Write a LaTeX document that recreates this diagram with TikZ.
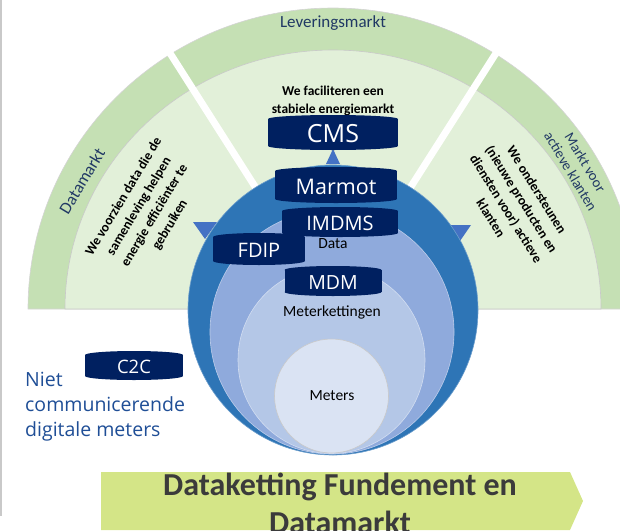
\documentclass[tikz,border=0pt]{standalone}
\usepackage{fontspec}
\usetikzlibrary{calc}
\setmainfont{Carlito}
\newfontfamily\osans{Open Sans}
\definecolor{band}{HTML}{C5E0B4}
\definecolor{innerg}{HTML}{E2F0D9}
\definecolor{edge}{HTML}{C9C9C9}
\definecolor{navy}{HTML}{002060}
\definecolor{ringA}{HTML}{2E75B6}
\definecolor{ringB}{HTML}{8FAADC}
\definecolor{ringC}{HTML}{B4C7E7}
\definecolor{ringD}{HTML}{DAE3F3}
\definecolor{tri}{HTML}{4472C4}
\definecolor{lbl}{HTML}{203864}
\definecolor{nietc}{HTML}{1F4E96}
\definecolor{banner}{HTML}{D4E587}
\definecolor{bantext}{HTML}{3B3B3B}
\tikzset{
  canlabel/.style={text=white, inner sep=0pt},
  sectortext/.style={font=\bfseries\fontsize{13.5}{18}\selectfont, align=center, inner sep=0pt},
  marketlabel/.style={text=lbl, align=center, inner sep=0pt},
  ringtext/.style={font=\fontsize{15.5}{18}\selectfont, inner sep=0pt},
  trianglefill/.style={fill=tri}
}
\newcommand\navycan[7]{%
  \fill[navy] (#2,#3) ++(-#4,{-#5+4}) rectangle ++({2*#4},{2*#5-8});
  \fill[navy] (#2,{#3-#5+4}) ellipse[x radius=#4pt, y radius=4pt];
  \fill[navy] (#2,{#3+#5-4}) ellipse[x radius=#4pt, y radius=4pt];
  \node[canlabel, font=\osans\fontsize{#6}{#6}\selectfont] (#1) at (#2,{#3+1.5}) {#7};
}
\begin{document}
\begin{tikzpicture}[x=1pt,y=-1pt]
\useasboundingbox (0,0) rectangle (620,530);
\clip (0,0) rectangle (620,530);
% left screenshot edge
\draw[edge, line width=2pt] (1,0) -- (1,516);
% market sectors
\fill[band, draw=edge!80, line width=0.6pt] (28,309) arc[start angle=180,end angle=0,x radius=305pt,y radius=301pt] -- cycle;
\fill[innerg, draw=edge, line width=0.6pt] (65,309) arc[start angle=180,end angle=0,x radius=268pt,y radius=259pt] -- cycle;
\coordinate (ctr) at (333,309);
\coordinate (gapL) at ($(ctr)+(122.5:340pt)$);
\coordinate (gapR) at ($(ctr)+(57.5:340pt)$);
\draw[white, line width=7pt] (ctr) -- (gapL);
\draw[white, line width=7pt] (ctr) -- (gapR);
% market labels
\node[marketlabel, font=\fontsize{17}{20}\selectfont] (lev) at (333,23) {Leveringsmarkt};
\node[marketlabel, font=\fontsize{17}{20}\selectfont, rotate=59] (dm) at (82,181) {Datamarkt};
\node[marketlabel, font=\fontsize{14.5}{17}\selectfont, rotate=-59] (mva) at (578,167) {Markt voor\\actieve klanten};
% sector texts
\node[sectortext] (ttop) at (333,100.5) {We faciliteren een\\stabiele energiemarkt};
\node[sectortext, rotate=59] (tleft) at (147,211) {We voorzien data die de\\samenleving helpen\\energie efficiënter te\\gebruiken};
\node[sectortext, rotate=-58] (tright) at (514,204) {We ondersteunen\\(nieuwe producten en\\diensten voor) actieve\\klanten};
% side triangles
\fill[trianglefill] (193,222) -- (217,222) -- (205,239) -- cycle;
\fill[trianglefill] (447,225) -- (471,225) -- (460,241) -- cycle;
% nested circles
\fill[ringA, draw=ringA!70!white, line width=0.6pt] (333,310) circle[radius=145pt];
\fill[ringB, draw=ringB!60!white, line width=0.6pt] (332,332) circle[radius=122pt];
\fill[ringC, draw=ringC!60!white, line width=0.6pt] (331.5,360) circle[radius=93.5pt];
\fill[ringD, draw=edge, line width=0.6pt] (331.5,396) circle[radius=57pt];
\node[ringtext] (meters) at (332,396) {Meters};
\node[ringtext] (mk) at (332,312) {Meterkettingen};
\node[ringtext] (data) at (333,244) {Data};
% top triangle
\fill[trianglefill] (333,149) -- (326,164) -- (340,164) -- cycle;
% systems
\navycan{cms}{333}{132.5}{65}{17.5}{25}{CMS}
\navycan{marmot}{336}{185}{61}{18}{21.5}{Marmot}
\navycan{imdms}{340}{222}{58}{15}{20}{IMDMS}
\navycan{fdip}{259}{249}{46}{16}{20}{FDIP}
\navycan{mdm}{333}{281}{48.5}{15}{19.5}{MDM}
\navycan{ctoc}{134}{365.5}{49}{14.5}{18.5}{C2C}
% non-communicating meters
\node[anchor=west, align=left, text=nietc, font=\osans\fontsize{19.5}{25}\selectfont, inner sep=0pt] (niet) at (25,407) {Niet\\communicerende\\digitale meters};
% banner
\fill[banner] (101,472) -- (570,472) -- (583,501) -- (570,530) -- (101,530) -- cycle;
\node[align=center, text=bantext, font=\bfseries\fontsize{32}{38}\selectfont, inner sep=0pt] (ban) at (340,503) {Dataketting Fundement en\\Datamarkt};
\end{tikzpicture}
\end{document}
